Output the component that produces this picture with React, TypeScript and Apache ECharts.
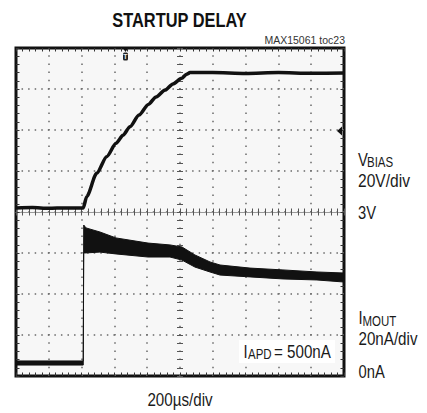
import React, { useEffect, useRef } from "react";
import * as echarts from "echarts";

// ---- Data (time in µs, 200 µs/div, 10 divisions) ----
const vbiasTimeUs = [0, 100, 200, 300, 410, 431, 492, 553, 610, 652, 695, 750, 807, 854, 909, 957, 1010, 1040, 1061, 1200, 1400, 1600, 1800, 2000];
const vbiasVolts = [5, 5.2, 4.8, 5, 5, 10.5, 21.9, 30, 36.5, 40.4, 44.6, 50.3, 55.5, 59.1, 62.5, 65.5, 68.2, 70.2, 71, 71, 70.6, 71, 70.7, 70.8];

const imoutTimeUs = [0, 410, 413, 427, 512, 610, 805, 939, 1012, 1091, 1183, 1244, 1427, 1628, 1835, 2000];
const imoutUpperNA = [1.0, 1.0, 67.3, 65.9, 63.9, 61, 58.5, 57.6, 56.6, 52.7, 49.3, 47.8, 46.3, 45.4, 44.4, 43.9];
const imoutLowerNA = [-1.0, -1.0, 53.7, 53.7, 54.1, 53.2, 51.7, 51.7, 50.2, 46.8, 44.4, 42.9, 42, 41, 40.5, 39.5];

// Scope settings
const timePerDivUs = 200;
const xDivs = 10;
const yDivs = 8;
const vbiasVoltsPerDiv = 20;
const vbiasRefVolts = 3; // at center graticule line
const vbiasRefDiv = 4;
const imoutNAPerDiv = 20;
const imoutZeroDiv = 0.317;

const toVbiasDiv = (v: number) => vbiasRefDiv + (v - vbiasRefVolts) / vbiasVoltsPerDiv;
const toImoutDiv = (i: number) => imoutZeroDiv + i / imoutNAPerDiv;

const FONT = "'Liberation Sans', Arial, sans-serif";
const NARROW_SCALE = 0.82;
const GRID = { left: 16, top: 48, width: 328, height: 328 };

function txt(x: number, y: number, text: string, fontSize: number, extra: any = {}, scaleX = NARROW_SCALE) {
  return {
    type: "text",
    x,
    y,
    scaleX,
    z: 100,
    style: {
      text,
      fontSize,
      fontFamily: FONT,
      fill: "#1a1a1a",
      align: "left",
      verticalAlign: "middle",
      ...extra,
    },
  };
}

export default function App() {
  const ref = useRef<HTMLDivElement>(null);

  useEffect(() => {
    if (!ref.current) return;
    const chart = echarts.init(ref.current, undefined, { renderer: "svg" });

    const xMax = timePerDivUs * xDivs;
    const tickColor = "#333";
    const dotColor = "#6a6a6a";

    const borderX = (pos: "bottom" | "top", split: boolean) => ({
      gridIndex: 0,
      type: "value",
      min: 0,
      max: xMax,
      interval: timePerDivUs,
      position: pos,
      axisLine: { show: false, onZero: false },
      axisTick: { show: true, inside: true, length: 3.5, lineStyle: { color: tickColor, width: 1 } },
      minorTick: { show: true, splitNumber: 5, length: 3.5, lineStyle: { color: tickColor, width: 1 } },
      axisLabel: { show: false },
      splitLine: split
        ? { show: true, showMinLine: false, showMaxLine: false, lineStyle: { color: dotColor, width: 1.5, type: [1.5, 6.7], dashOffset: 0.75 } }
        : { show: false },
    });
    const borderY = (pos: "left" | "right", split: boolean) => ({
      gridIndex: 0,
      type: "value",
      min: 0,
      max: yDivs,
      interval: 1,
      position: pos,
      axisLine: { show: false, onZero: false },
      axisTick: { show: true, inside: true, length: 3.5, lineStyle: { color: tickColor, width: 1 } },
      minorTick: { show: true, splitNumber: 5, length: 3.5, lineStyle: { color: tickColor, width: 1 } },
      axisLabel: { show: false },
      splitLine: split
        ? { show: true, showMinLine: false, showMaxLine: false, lineStyle: { color: dotColor, width: 1.5, type: [1.5, 5.06], dashOffset: 0.75 } }
        : { show: false },
    });
    const centerX = (grid: number, inside: boolean, line: boolean) => ({
      gridIndex: grid,
      type: "value",
      min: -xDivs / 2,
      max: xDivs / 2,
      interval: 1,
      position: "bottom",
      axisLine: { show: line, onZero: true, lineStyle: { color: "#9a9a9a", width: 1 } },
      axisTick: { show: true, inside, length: 3.5, lineStyle: { color: "#555", width: 1 } },
      minorTick: { show: true, splitNumber: 5, length: 3.5, lineStyle: { color: "#555", width: 1 } },
      axisLabel: { show: false },
      splitLine: { show: false },
    });
    const centerY = (grid: number, inside: boolean) => ({
      gridIndex: grid,
      type: "value",
      min: -yDivs / 2,
      max: yDivs / 2,
      interval: 1,
      position: "left",
      axisLine: { show: false, onZero: true },
      axisTick: { show: true, inside, length: 3, lineStyle: { color: "#555", width: 1 } },
      minorTick: { show: true, splitNumber: 5, length: 3, lineStyle: { color: "#555", width: 1 } },
      axisLabel: { show: false },
      splitLine: { show: false },
    });

    const vbiasData = vbiasTimeUs.map((t, i) => [t, toVbiasDiv(vbiasVolts[i])]);
    const imUpper = imoutTimeUs.map((t, i) => [t, toImoutDiv(imoutUpperNA[i])]);
    const imLower = imoutTimeUs.map((t, i) => [t, toImoutDiv(imoutLowerNA[i])]);

    chart.setOption({
      animation: false,
      backgroundColor: "#ffffff",
      grid: [
        { ...GRID, show: true, borderColor: "#111", borderWidth: 3, backgroundColor: "#f7f7f7" },
        { ...GRID, show: false },
        { ...GRID, show: false },
      ],
      xAxis: [borderX("bottom", true), borderX("top", false), centerX(1, true, true), centerX(2, false, false)],
      yAxis: [borderY("left", true), borderY("right", false), centerY(1, true), centerY(2, false)],
      series: [
        {
          name: "VBIAS",
          type: "line",
          xAxisIndex: 0,
          yAxisIndex: 0,
          data: vbiasData,
          symbol: "none",
          smooth: 0.25,
          smoothMonotone: "x",
          lineStyle: { color: "#111", width: 3.5 },
          z: 5,
        },
        {
          name: "IMOUT",
          type: "custom",
          xAxisIndex: 0,
          yAxisIndex: 0,
          data: imoutTimeUs.map((t, i) => [t, toImoutDiv(imoutLowerNA[i]), toImoutDiv(imoutUpperNA[i])]),
          encode: { x: 0, y: [1, 2] },
          clip: true,
          z: 5,
          renderItem: (params: any, api: any) => {
            if (params.dataIndex !== 0) return null;
            const top = imUpper.map((p) => api.coord(p));
            const bottom = imLower.map((p) => api.coord(p)).reverse();
            return {
              type: "polygon",
              shape: { points: top.concat(bottom) },
              style: { fill: "#111", stroke: "#111", lineWidth: 1 },
            };
          },
        },
      ],
      graphic: [
        txt(179.5, 20, "STARTUP DELAY", 20, { align: "center", fontWeight: "bold", fill: "#111" }),
        txt(345, 39.5, "MAX15061 toc23", 10.5, { align: "right", fill: "#333" }, 1),
        // trigger marker
        { type: "polygon", z: 100, shape: { points: [[122.5, 47.5], [128.5, 47.5], [125.5, 52]] }, style: { fill: "#111" } },
        { type: "rect", z: 100, shape: { x: 123, y: 52.5, width: 5, height: 8, r: 1.5 }, style: { fill: "#222" } },
        { type: "text", z: 101, x: 125.5, y: 56.7, style: { text: "T", fontSize: 7, fontFamily: FONT, fontWeight: "bold", fill: "#eee", align: "center", verticalAlign: "middle" } },
        // channel marker
        { type: "polygon", z: 100, shape: { points: [[342, 126.5], [342, 135.5], [337, 131]] }, style: { fill: "#111" } },
        // right-side labels
        txt(358, 159.7, "V", 18),
        txt(367, 162.4, "BIAS", 14),
        txt(358, 180, "20V/div", 19),
        txt(358, 212, "3V", 18),
        txt(358.5, 317.7, "I", 18),
        txt(362.5, 320.6, "MOUT", 14),
        txt(358.5, 338.5, "20nA/div", 18.5),
        txt(358.5, 371.7, "0nA", 18),
        // IAPD box
        { type: "rect", z: 99, shape: { x: 239, y: 340, width: 96, height: 23 }, style: { fill: "#ffffff" } },
        txt(243.5, 351.7, "I", 18),
        txt(248, 354, "APD", 14),
        txt(274, 351.5, "= 500nA", 18.5),
        txt(180, 399.5, "200µs/div", 18.5, { align: "center" }),
      ],
    });

    return () => chart.dispose();
  }, []);

  return (
    <div
      ref={ref}
      style={{ position: "fixed", left: 0, top: 0, width: 427, height: 413, background: "#fff" }}
    />
  );
}
